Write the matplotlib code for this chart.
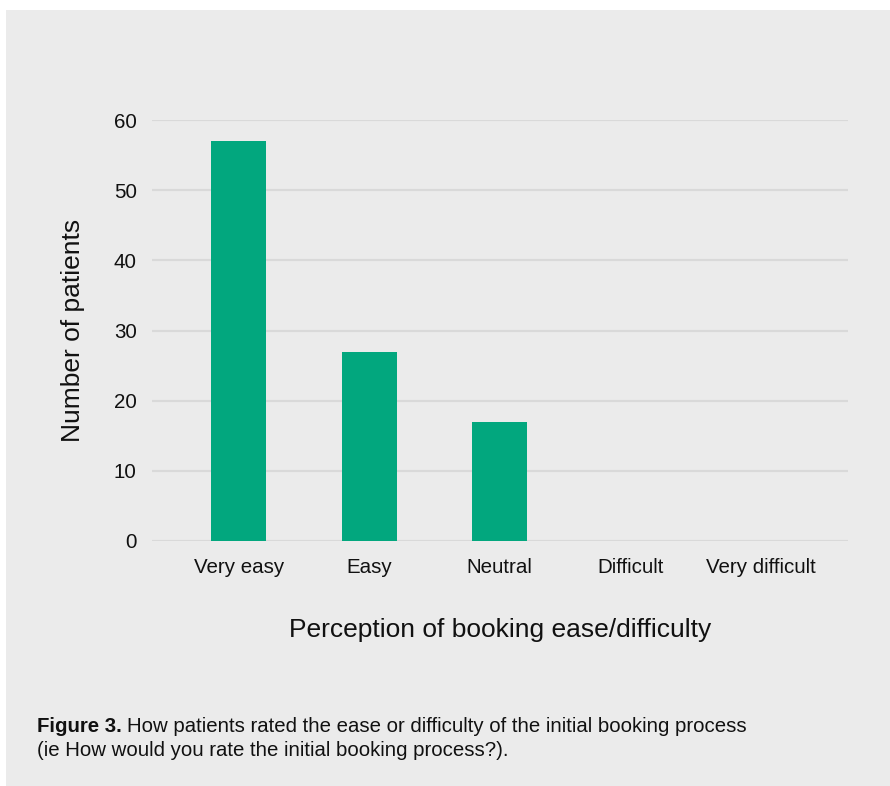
import matplotlib.pyplot as plt

# data
categories = ['Very easy', 'Easy', 'Neutral', 'Difficult', 'Very difficult']
patients = [57, 27, 17, 0, 0]
yticks = [0, 10, 20, 30, 40, 50, 60]

bg = '#ebebeb'
bar_color = '#02a77e'
grid_color = '#d9d9d9'
ink = '#111111'

plt.rcParams['font.family'] = ['Liberation Sans', 'DejaVu Sans']

fig = plt.figure(figsize=(8.9, 7.86), dpi=100)
fig.patch.set_facecolor('white')

# grey panel behind everything
panel = plt.Rectangle((6 / 890, 0), 1, 1 - 10 / 786, transform=fig.transFigure,
                      facecolor=bg, edgecolor='none', zorder=-10)
fig.patches.append(panel)

ax = fig.add_axes([152 / 890, 1 - 541 / 786, (848 - 152) / 890, (541 - 120) / 786])
ax.patch.set_alpha(0)

x = range(len(categories))
ax.bar(x, patients, width=0.42, color=bar_color, zorder=3)

ax.set_xlim(-0.663, 4.667)
ax.set_ylim(0, 60)
ax.set_yticks(yticks)
ax.set_xticks(list(x))
ax.set_xticklabels(categories)
ax.grid(axis='y', color=grid_color, linewidth=1.6, zorder=0)
for s in ax.spines.values():
    s.set_visible(False)
ax.tick_params(length=0, labelsize=14.8, colors=ink)
ax.tick_params(axis='y', pad=11)
ax.tick_params(axis='x', pad=12)

ax.set_ylabel('Number of patients', fontsize=19, labelpad=21, color=ink)
ax.set_xlabel('Perception of booking ease/difficulty', fontsize=19, labelpad=30,
              color=ink)

# caption with bold lead-in
t1 = fig.text(37 / 890, 1 - 727 / 786, 'Figure 3.', fontsize=14.7, va='center',
              fontweight='bold', color=ink)
fig.canvas.draw()
bb = t1.get_window_extent()
fig.text((bb.x1 + 5) / 890, 1 - 727 / 786,
         'How patients rated the ease or difficulty of the initial booking process',
         fontsize=14.7, va='center', color=ink)
fig.text(37 / 890, 1 - 750 / 786,
         '(ie How would you rate the initial booking process?).',
         fontsize=14.7, va='center', color=ink)

fig.savefig('out.png', dpi=100, facecolor=fig.get_facecolor())
